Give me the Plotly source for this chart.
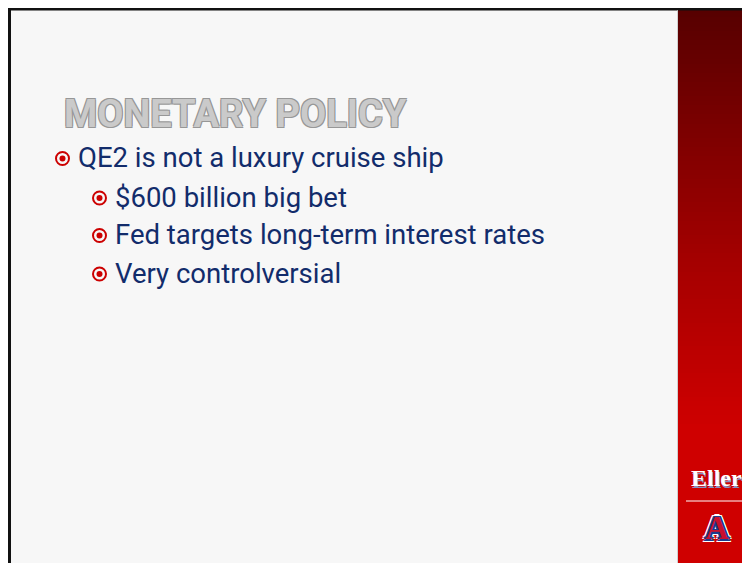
import plotly.graph_objects as go
import numpy as np

# ---- content ----
title_text = "MONETARY POLICY"
bullet_texts = [
    "QE2 is not a luxury cruise ship",
    "$600 billion big bet",
    "Fed targets long-term interest rates",
    "Very controlversial",
]
bullet_levels = [0, 1, 1, 1]
line_y = [157.5, 197, 234.5, 273]
logo_word = "Eller"

# ---- styles ----
PAGE_W, PAGE_H = 750, 563
OFF = 8  # page body margin
W, H = PAGE_W - OFF, PAGE_H - OFF
BG = "#f7f7f7"
TEXT_BLUE = "#122c6b"
BULLET_RED = "#cc0000"
BAR_X0 = 678
GRAD_TOP = "#560000"
GRAD_BOTTOM = "#cf0000"
INDENT_BULLET = [62.5, 99.5]
INDENT_TEXT = [76, 113]

fig = go.Figure()

# gradient red bar (vertical)
n = 120
y_edges = np.linspace(OFF, PAGE_H, n + 1)
centers = (y_edges[:-1] + y_edges[1:]) / 2
zvals = np.clip((centers - OFF) / 420.0, 0, 1).reshape(-1, 1)
fig.add_trace(go.Heatmap(
    z=zvals, x=[BAR_X0, PAGE_W], y=y_edges,
    colorscale=[[0, GRAD_TOP], [0.6, "#a40000"], [1, GRAD_BOTTOM]],
    zmin=0, zmax=1, showscale=False, hoverinfo="skip",
))

# bullets as markers
bx = [INDENT_BULLET[l] for l in bullet_levels]
by = [y + 1 for y in line_y]
fig.add_trace(go.Scatter(
    x=bx, y=by, mode="markers", hoverinfo="skip",
    marker=dict(symbol="circle-open", size=13, color=BULLET_RED, line=dict(width=2, color=BULLET_RED)),
))
fig.add_trace(go.Scatter(
    x=bx, y=by, mode="markers", hoverinfo="skip",
    marker=dict(symbol="circle", size=6, color=BULLET_RED, line=dict(width=0)),
))

shapes = [
    # slide background
    dict(type="rect", x0=11, x1=BAR_X0, y0=OFF, y1=PAGE_H, fillcolor=BG, line_width=0, layer="below"),
    # borders
    dict(type="rect", x0=OFF, x1=11, y0=OFF, y1=PAGE_H, fillcolor="#111111", line_width=0),
    dict(type="rect", x0=OFF, x1=PAGE_W, y0=OFF, y1=10.5, fillcolor="#111111", line_width=0),
    dict(type="line", x0=BAR_X0 - 0.5, x1=BAR_X0 - 0.5, y0=10.5, y1=PAGE_H, line=dict(color="#d0d0d0", width=1)),
    # logo separator
    dict(type="line", x0=686, x1=748, y0=501, y1=501, line=dict(color="#ffffff", width=1)),
]

annotations = []
# title
annotations.append(dict(
    x=62, y=114, xref="x", yref="y", text=title_text, showarrow=False,
    xanchor="left", yanchor="middle",
    font=dict(family="Roboto", size=38, color="#cacaca", weight="bold",
              shadow="1px 1px 0 #979797, -1px -1px 0 #979797, 1px -1px 0 #979797, -1px 1px 0 #979797"),
))

for txt, lvl, yy in zip(bullet_texts, bullet_levels, line_y):
    annotations.append(dict(
        x=INDENT_TEXT[lvl], y=yy, xref="x", yref="y", text=txt, showarrow=False,
        xanchor="left", yanchor="middle",
        font=dict(family="Roboto", size=27.5, color=TEXT_BLUE),
    ))

# Eller logo text
annotations.append(dict(
    x=716, y=478, xref="x", yref="y", text=logo_word, showarrow=False,
    xanchor="center", yanchor="middle",
    font=dict(family="Liberation Serif", size=24, color="#ffffff", weight="bold",
              shadow="1px 2px 0 #8890c0"),
))
# A logo
annotations.append(dict(
    x=717, y=528, xref="x", yref="y", text="A", showarrow=False,
    xanchor="center", yanchor="middle",
    font=dict(family="Liberation Serif", size=33, color="#c8102e", weight="bold",
              shadow=("1.5px 0 0 #1b3a8c, -1.5px 0 0 #1b3a8c, 0 1.5px 0 #1b3a8c, 0 -1.5px 0 #1b3a8c, "
                      "1.5px 1.5px 0 #1b3a8c, -1.5px -1.5px 0 #1b3a8c, 1.5px -1.5px 0 #1b3a8c, -1.5px 1.5px 0 #1b3a8c, "
                      "3px 0 0 #fff, -3px 0 0 #fff, 0 3px 0 #fff, 0 -3px 0 #fff, "
                      "2.5px 2.5px 0 #fff, -2.5px -2.5px 0 #fff, 2.5px -2.5px 0 #fff, -2.5px 2.5px 0 #fff")),
))

fig.update_layout(
    width=W, height=H,
    margin=dict(l=0, r=0, t=0, b=0),
    paper_bgcolor="#ffffff", plot_bgcolor="#ffffff",
    xaxis=dict(range=[OFF, PAGE_W], visible=False, fixedrange=True),
    yaxis=dict(range=[PAGE_H, OFF], visible=False, fixedrange=True),
    shapes=shapes, annotations=annotations,
    showlegend=False,
)

fig.write_html("out.html")
